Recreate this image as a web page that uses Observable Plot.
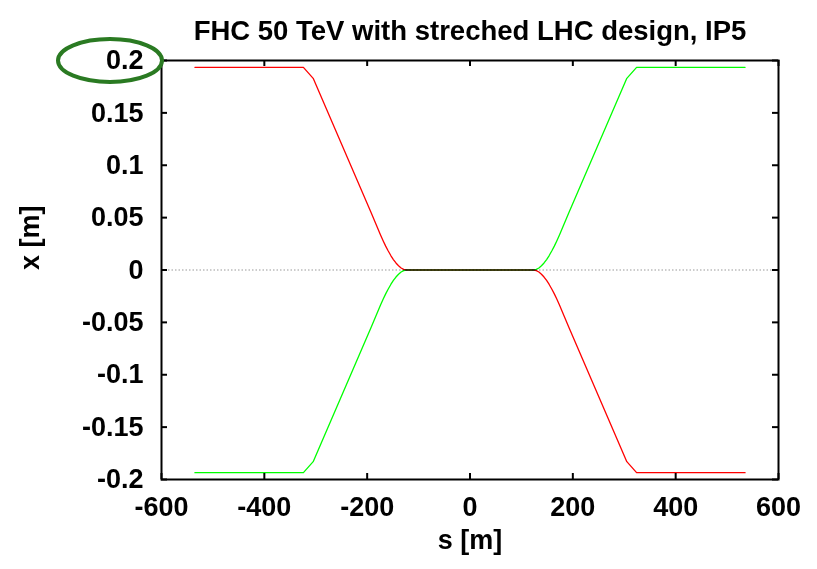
<!DOCTYPE html>
<html>
<head>
<meta charset="utf-8">
<script src="https://cdn.jsdelivr.net/npm/d3@7"></script>
<script src="https://cdn.jsdelivr.net/npm/@observablehq/plot@0.6"></script>
<style>
  html, body { margin: 0; padding: 0; background: #fff; }
  #chart svg { display: block; }
</style>
</head>
<body>
<div id="chart"></div>
<script>
const titleText = "FHC 50 TeV with streched LHC design, IP5";
const xLabel = "s [m]";
const yLabel = "x [m]";
const xTicks = [-600, -400, -200, 0, 200, 400, 600];
const yTicks = [-0.2, -0.15, -0.1, -0.05, 0, 0.05, 0.1, 0.15, 0.2];

// s positions [m]
const sPos = [-535, -324, -305, -192, -183, -174, -169, -164, -159, -154, -149, -144, -139, -134, -129, -124,
              124, 129, 134, 139, 144, 149, 154, 159, 164, 169, 174, 183, 192, 305, 324, 535];
// red orbit x [m]
const redX = [0.1935, 0.1935, 0.1830, 0.0545, 0.0440, 0.0335, 0.0280, 0.0228, 0.0181, 0.0138, 0.0100, 0.0067, 0.0040, 0.0019, 0.0006, 0,
              0, -0.0006, -0.0019, -0.0040, -0.0067, -0.0100, -0.0138, -0.0181, -0.0228, -0.0280, -0.0335, -0.0440, -0.0545, -0.1830, -0.1935, -0.1935];
// green orbit x [m]
const greenX = [-0.1935, -0.1935, -0.1830, -0.0545, -0.0440, -0.0335, -0.0280, -0.0228, -0.0181, -0.0138, -0.0100, -0.0067, -0.0040, -0.0019, -0.0006, 0,
                0, 0.0006, 0.0019, 0.0040, 0.0067, 0.0100, 0.0138, 0.0181, 0.0228, 0.0280, 0.0335, 0.0440, 0.0545, 0.1830, 0.1935, 0.1935];

const W = 817, H = 569;
const mL = 161, mR = 39, mT = 60, mB = 90;
const pw = W - mL - mR, ph = H - mT - mB;
const tick = 6;

const red = sPos.map((s, i) => ({s, x: redX[i]}));
const green = sPos.map((s, i) => ({s, x: greenX[i]}));

const chart = Plot.plot({
  width: W, height: H,
  marginLeft: mL, marginRight: mR, marginTop: mT, marginBottom: mB,
  style: {fontFamily: "'Liberation Sans', Arial, sans-serif", fontSize: "27px", fontWeight: "bold", color: "#000", background: "#fff"},
  x: {domain: [-600, 600]},
  y: {domain: [-0.2, 0.2]},
  marks: [
    Plot.ruleY([0], {stroke: "#999", strokeWidth: 1, strokeDasharray: "1.5,2"}),
    Plot.line(red, {x: "s", y: "x", stroke: "#ff0000", strokeWidth: 1.3, mixBlendMode: "multiply"}),
    Plot.line(green, {x: "s", y: "x", stroke: "#00ff00", strokeWidth: 1.3, mixBlendMode: "multiply"}),
    Plot.tickY(yTicks, {y: d => d, stroke: "#000", strokeWidth: 2, insetRight: pw - tick}),
    Plot.tickY(yTicks, {y: d => d, stroke: "#000", strokeWidth: 2, insetLeft: pw - tick}),
    Plot.tickX(xTicks, {x: d => d, stroke: "#000", strokeWidth: 2, insetBottom: ph - tick}),
    Plot.tickX(xTicks, {x: d => d, stroke: "#000", strokeWidth: 2, insetTop: ph - tick}),
    Plot.frame({stroke: "#000", strokeWidth: 2}),
    Plot.axisX({ticks: xTicks, tickSize: 0, tickPadding: 17, tickFormat: d => String(d), label: null}),
    Plot.axisY({ticks: yTicks, tickSize: 0, tickPadding: 18, tickFormat: d => String(d), label: null}),
    Plot.text([titleText], {frameAnchor: "top", dy: -40, text: d => d, fontSize: 27.5}),
    Plot.text([xLabel], {frameAnchor: "bottom", dy: 69, text: d => d, fontSize: 27}),
    Plot.text([yLabel], {frameAnchor: "left", dx: -131, rotate: -90, text: d => d, fontSize: 27})
  ]
});

const yS = chart.scale("y");
d3.select(chart).append("ellipse")
  .attr("cx", 110).attr("cy", yS.apply(0.2) + 0.5)
  .attr("rx", 52).attr("ry", 21.5)
  .attr("fill", "none").attr("stroke", "#2a7a22").attr("stroke-width", 4);

document.getElementById("chart").appendChild(chart);
</script>
</body>
</html>
